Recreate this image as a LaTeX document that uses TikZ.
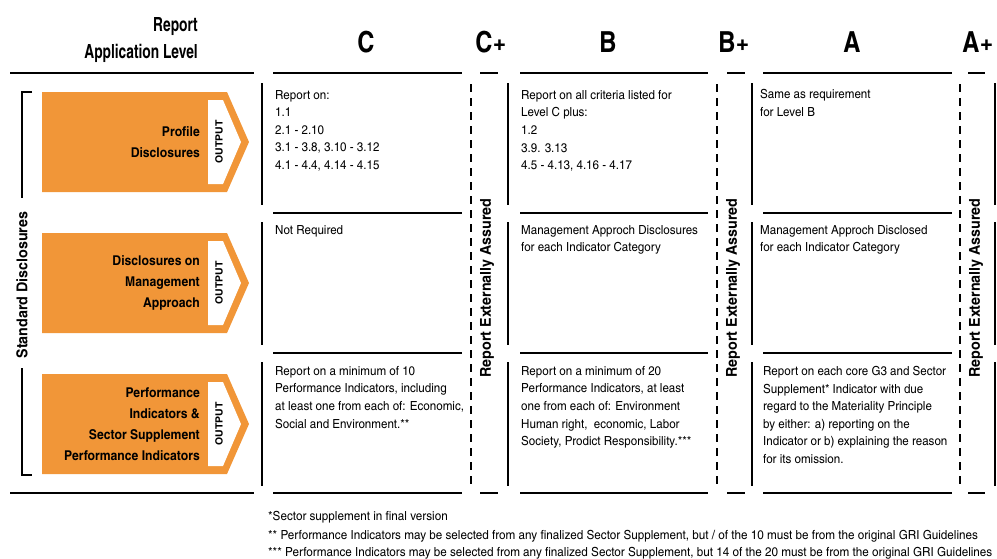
\documentclass[tikz,border=0pt]{standalone}
\usepackage{fontspec}
\setmainfont{texgyreheroscn}[Extension=.otf, UprightFont=*-regular, BoldFont=*-bold, ItalicFont=*-italic, BoldItalicFont=*-bolditalic]
\newfontfamily\cellfont{texgyreheroscn}[Extension=.otf, UprightFont=*-regular, BoldFont=*-bold, FakeStretch=1.13]
\newfontfamily\footfont{texgyreheroscn}[Extension=.otf, UprightFont=*-regular, BoldFont=*-bold, FakeStretch=1.14]
\newfontfamily\boxfont{texgyreheroscn}[Extension=.otf, UprightFont=*-bold, BoldFont=*-bold, FakeStretch=1.10]
\newfontfamily\vfont{texgyreheroscn}[Extension=.otf, UprightFont=*-bold, BoldFont=*-bold, FakeStretch=1.16]
\newfontfamily\outfont{texgyreheroscn}[Extension=.otf, UprightFont=*-bold, BoldFont=*-bold, FakeStretch=1.28]
\newfontfamily\titlefont{texgyreheroscn}[Extension=.otf, UprightFont=*-bold, BoldFont=*-bold, FakeStretch=0.86]
\definecolor{gorange}{RGB}{241,150,56}
\begin{document}
\begin{tikzpicture}[x=1pt,y=-1pt,
  rule/.style={line width=2.7pt},
  dashrule/.style={line width=2.7pt, dash pattern=on 8pt off 6pt},
  cell/.style={anchor=north west, align=left, inner sep=0pt, font=\cellfont\fontsize{12.5}{17.6}\selectfont},
  hdr/.style={anchor=base, inner sep=0pt, font=\bfseries\fontsize{29}{30}\selectfont},
  toptitle/.style={anchor=base east, inner sep=0pt, font=\titlefont\fontsize{19.5}{20}\selectfont},
  boxtext/.style={anchor=east, align=right, inner sep=0pt, font=\boxfont\fontsize{13.5}{21}\selectfont},
  outtext/.style={rotate=90, inner sep=0pt, font=\outfont\fontsize{10}{10}\selectfont},
  vtext/.style={rotate=90, inner sep=0pt, font=\vfont\fontsize{15}{15}\selectfont},
  orangebox/.style={fill=gorange},
  whitetab/.style={fill=white},
  foot/.style={anchor=base west, inner sep=0pt, font=\footfont\fontsize{12.5}{13}\selectfont}
]
\useasboundingbox (0,0) rectangle (997,558);

% header titles
\node[toptitle] (t1) at (198,31) {Report};
\node[toptitle] (t2) at (198,58) {Application Level};
\node[hdr] (hC) at (366,52) {C};
\node[hdr] (hCp) at (491,52) {C+};
\node[hdr] (hB) at (608,52) {B};
\node[hdr] (hBp) at (734,52) {B+};
\node[hdr] (hA) at (852,52) {A};
\node[hdr] (hAp) at (978,52) {A+};

% horizontal rules
\foreach \y in {73,493}{
  \draw[rule] (10,\y) -- (254,\y);
  \draw[rule] (480,\y) -- (498,\y);
  \draw[rule] (727,\y) -- (745,\y);
  \draw[rule] (968,\y) -- (985,\y);
}
\foreach \y in {73,213,353,493}{
  \draw[rule] (273,\y) -- (462,\y);
  \draw[rule] (520,\y) -- (708,\y);
  \draw[rule] (763,\y) -- (952,\y);
}
% vertical solid rules
\foreach \x in {262,508,752,995}{
  \draw[rule] (\x,83) -- (\x,205);
  \draw[rule] (\x,222) -- (\x,345);
  \draw[rule] (\x,362) -- (\x,486);
}
% dashed rules
\foreach \x in {471,717,960}{
  \draw[dashrule] (\x,84) -- (\x,488);
}

% vertical labels
\node[vtext] (ra1) at (487,288) {Report Externally Assured};
\node[vtext] (ra2) at (733,288) {Report Externally Assured};
\node[vtext] (ra3) at (976,288) {Report Externally Assured};

% Standard disclosures bracket
\draw[rule] (32,92) -- (22,92) -- (22,198);
\draw[rule] (22,368) -- (22,475) -- (32,475);
\node[vtext] (sd) at (22,285) {Standard Disclosures};

% orange boxes
\foreach \t/\n in {92/1,233/2,374/3}{
  \fill[orangebox] (42,\t) -- (227,\t) -- (249,\t+50) -- (227,\t+100) -- (42,\t+100) -- cycle;
  \fill[whitetab] (208,\t+8) -- (223,\t+8) -- (241,\t+50) -- (223,\t+92) -- (208,\t+92) -- cycle;
  \node[outtext] (out\n) at (219,\t+50) {OUTPUT};
}
\node[boxtext] (b1) at (200,142) {Profile\\Disclosures};
\node[boxtext] (b2) at (200,283) {Disclosures on\\Management\\Approach};
\node[boxtext] (b3) at (200,424) {Performance\\Indicators \&\\Sector Supplement\\Performance Indicators};

% cells
\node[cell] (c1) at (275,90) {Report on:\\1.1\\2.1 - 2.10\\3.1 - 3.8, 3.10 - 3.12\\4.1 - 4.4, 4.14 - 4.15};
\node[cell] (c2) at (275,225) {Not Required};
\node[cell] (c3) at (275,366) {Report on a minimum of 10\\Performance Indicators, including\\at least one from each of: Economic,\\Social and Environment.**};

\node[cell] (bb1) at (521,90) {Report on all criteria listed for\\Level C plus:\\1.2\\3.9. 3.13\\4.5 - 4.13, 4.16 - 4.17};
\node[cell] (bb2) at (521,225) {Management Approch Disclosures\\for each Indicator Category};
\node[cell] (bb3) at (521,366) {Report on a minimum of 20\\Performance Indicators, at least\\one from each of: Environment\\Human right,\ \ economic, Labor\\Society, Prodict Responsibility.***};

\node[cell] (a1) at (760,89) {Same as requirement\\for Level B};
\node[cell] (a2) at (760,225) {Management Approch Disclosed\\for each Indicator Category};
\node[cell] (a3) at (763,366) {Report on each core G3 and Sector\\Supplement* Indicator with due\\regard to the Materiality Principle\\by either: a) reporting on the\\Indicator or b) explaining the reason\\for its omission.};

% footnotes
\node[foot] (f1) at (268,520) {*Sector supplement in final version};
\node[foot] (f2) at (268,539) {** Performance Indicators may be selected from any finalized Sector Supplement, but / of the 10 must be from the original GRI Guidelines};
\node[foot] (f3) at (268,556) {*** Performance Indicators may be selected from any finalized Sector Supplement, but 14 of the 20 must be from the original GRI Guidelines};
\end{tikzpicture}
\end{document}
